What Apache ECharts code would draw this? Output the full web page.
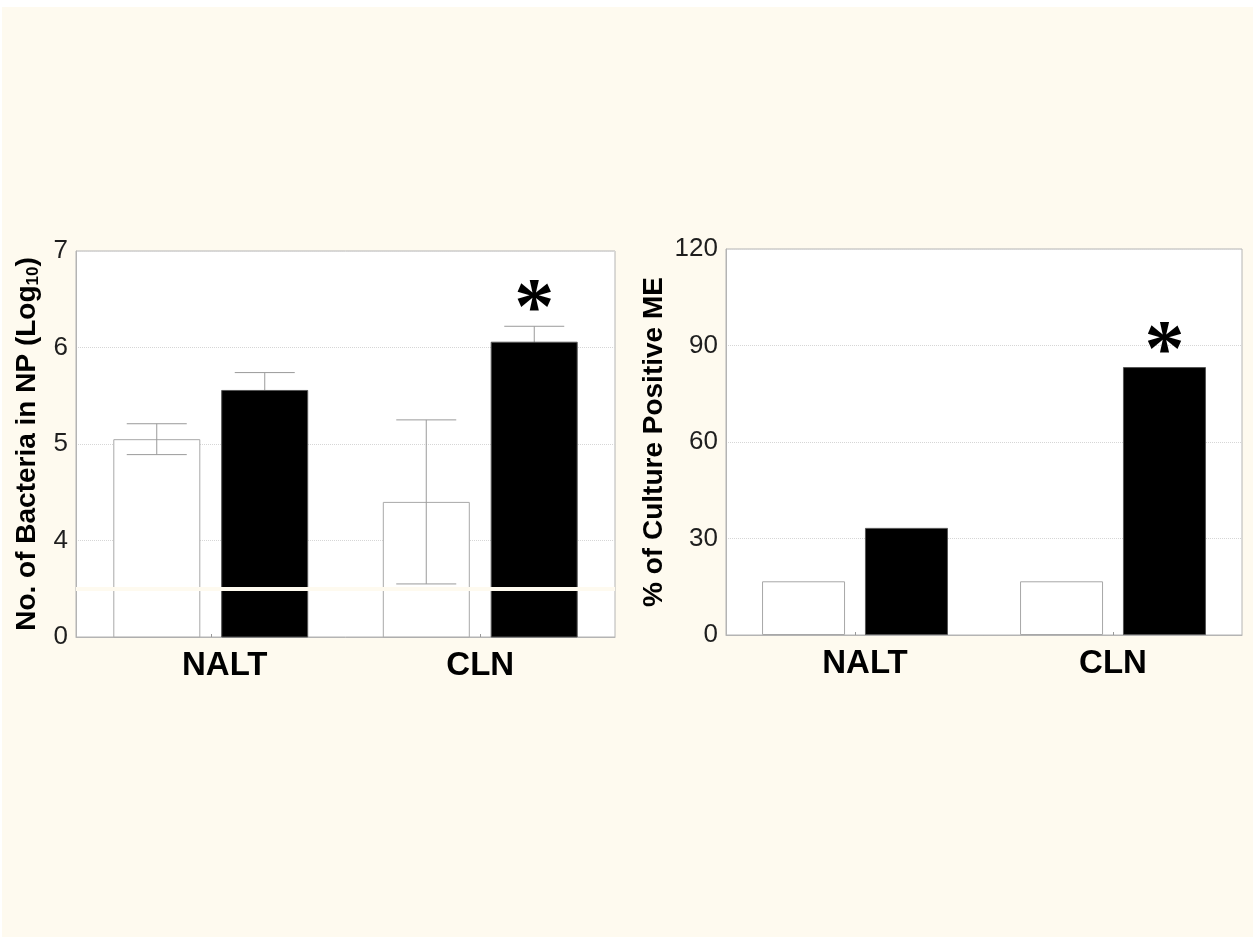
<!DOCTYPE html>
<html>
<head>
<meta charset="utf-8">
<script src="https://cdn.jsdelivr.net/npm/echarts@6/dist/echarts.min.js"></script>
<style>
  html, body { margin: 0; padding: 0; background: #ffffff; }
  #panel { position: absolute; left: 2px; top: 7px; width: 1251px; height: 930px; background: #fefaef; }
  #chart { position: absolute; left: 0; top: 0; width: 1256px; height: 939px; }
</style>
</head>
<body>
<div id="panel"></div>
<div id="chart"></div>
<script>
// Groups on the x axis
const categories = ['NALT', 'CLN'];

// Bacteria recovered from the nasopharynx (log10), mean and error
const npControl = [5.05, 4.40];
const npControlErr = [0.16, 0.85];
const npTreated = [5.56, 6.06];
const npTreatedErr = [0.18, 0.16];
const npSignificance = ['', '*'];
// Broken axis: the stretch from 0 up to 3.5 is cut out, so the bottom
// tick (axis value 3) is read as 0 and a gap is drawn at 3.5.
const npAxisFloor = 3;
const npBreakAt = 3.5;
const npTickLabels = ['0', '4', '5', '6', '7'];

// Percentage of middle ears that were culture positive
const meControl = [16.7, 16.7];
const meTreated = [33.3, 83.3];
const meSignificance = ['', '*'];
const meTickLabels = ['0', '30', '60', '90', '120'];

const FONT = 'Liberation Sans, Arial, Helvetica, sans-serif';
const AXIS_GRAY = '#b4b4b4';
const BAR_BORDER = '#a8a8a8';
const PANEL = '#fefaef';

function yAxisBase(name, nameGap, labels, min, interval) {
  return {
    type: 'value',
    name: name,
    nameLocation: 'middle',
    nameGap: nameGap,
    nameRotate: 90,
    nameTextStyle: { fontFamily: FONT, fontWeight: 'bold', fontSize: 28, color: '#000',
      rich: { sub: { fontFamily: FONT, fontWeight: 'bold', fontSize: 17, color: '#000', verticalAlign: 'bottom', padding: [12, 0, 0, 0] } } },
    axisLine: { show: true, lineStyle: { color: AXIS_GRAY, width: 1 } },
    axisTick: { show: false },
    axisLabel: {
      fontFamily: FONT, fontSize: 26, color: '#1e1e1e', margin: 8,
      formatter: v => {
        const i = Math.round((v - min) / interval);
        return labels[i] !== undefined ? labels[i] : '';
      }
    },
    splitLine: { show: true, lineStyle: { type: 'dotted', color: '#d6d6d6', width: 1 } }
  };
}

function xAxisBase(gridIndex, firstShift) {
  return {
    type: 'category',
    gridIndex: gridIndex,
    data: categories.map((c, i) => ({ value: c, textStyle: { padding: i === 0 ? [0, 0, 0, firstShift] : [0, 0, 0, 0] } })),
    axisLine: { show: true, lineStyle: { color: AXIS_GRAY, width: 1 } },
    axisTick: { show: true, inside: true, length: 3, alignWithLabel: true, lineStyle: { color: '#999' } },
    axisLabel: { fontFamily: FONT, fontSize: 33, fontWeight: 'bold', color: '#000', margin: 12 },
    splitLine: { show: false }
  };
}

function errorBars(name, xAxisIndex, yAxisIndex, means, errs, offset, capWidth, z) {
  return {
    type: 'custom',
    name: name,
    xAxisIndex: xAxisIndex,
    yAxisIndex: yAxisIndex,
    z: z,
    silent: true,
    data: means.map((m, i) => [i, m - errs[i], m + errs[i]]),
    renderItem: function (params, api) {
      const lo = api.coord([api.value(0), api.value(1)]);
      const hi = api.coord([api.value(0), api.value(2)]);
      const x = lo[0] + offset;
      const h = capWidth / 2;
      const style = { stroke: '#9a9a9a', lineWidth: 1 };
      return {
        type: 'group',
        children: [
          { type: 'line', shape: { x1: x, y1: lo[1], x2: x, y2: hi[1] }, style: style },
          { type: 'line', shape: { x1: x - h, y1: hi[1], x2: x + h, y2: hi[1] }, style: style },
          { type: 'line', shape: { x1: x - h, y1: lo[1], x2: x + h, y2: lo[1] }, style: style }
        ]
      };
    }
  };
}

// Significance marker drawn above the treated bar
function starLabel(marks, lift) {
  return {
    show: true,
    position: 'top',
    distance: 0,
    offset: [0, lift],
    formatter: p => (marks[p.dataIndex] ? '*' : ''),
    fontFamily: 'Liberation Serif, Times New Roman, serif',
    fontWeight: 'bold',
    fontSize: 80,
    color: '#000'
  };
}

const npAxis = yAxisBase('No. of Bacteria in NP (Log{sub|10})', 34, npTickLabels, npAxisFloor, 1);
npAxis.gridIndex = 0;
npAxis.min = npAxisFloor;
npAxis.max = 7;
npAxis.interval = 1;

const meAxis = yAxisBase('% of Culture Positive ME', 58, meTickLabels, 0, 30);
meAxis.gridIndex = 1;
meAxis.min = 0;
meAxis.max = 120;
meAxis.interval = 30;

const option = {
  animation: false,
  backgroundColor: 'transparent',
  grid: [
    { left: 76, top: 251, width: 539, height: 386, show: true, backgroundColor: '#ffffff', borderColor: AXIS_GRAY, borderWidth: 1 },
    { left: 726, top: 249, width: 516, height: 386, show: true, backgroundColor: '#ffffff', borderColor: AXIS_GRAY, borderWidth: 1 }
  ],
  xAxis: [xAxisBase(0, 28), xAxisBase(1, 20)],
  yAxis: [npAxis, meAxis],
  series: [
    {
      type: 'bar', name: 'Control', xAxisIndex: 0, yAxisIndex: 0, z: 2,
      data: npControl, barWidth: 87, barGap: '24%',
      itemStyle: { color: '#ffffff', borderColor: BAR_BORDER, borderWidth: 1 }
    },
    {
      type: 'bar', name: 'Treated', xAxisIndex: 0, yAxisIndex: 0, z: 4,
      data: npTreated, barWidth: 87, barGap: '24%',
      itemStyle: { color: '#000000', borderColor: '#555', borderWidth: 1 },
      label: starLabel(npSignificance, 11),
      markLine: {
        silent: true,
        symbol: 'none',
        label: { show: false },
        lineStyle: { color: PANEL, width: 4, type: 'solid' },
        data: [{ yAxis: npBreakAt }]
      }
    },
    errorBars('Control error', 0, 0, npControl, npControlErr, -54, 60, 3),
    errorBars('Treated error', 0, 0, npTreated, npTreatedErr, 54, 60, 3),
    {
      type: 'bar', name: 'Control', xAxisIndex: 1, yAxisIndex: 1, z: 2,
      data: meControl, barWidth: 83, barGap: '24%',
      itemStyle: { color: '#ffffff', borderColor: BAR_BORDER, borderWidth: 1 }
    },
    {
      type: 'bar', name: 'Treated', xAxisIndex: 1, yAxisIndex: 1, z: 4,
      data: meTreated, barWidth: 83, barGap: '24%',
      itemStyle: { color: '#000000', borderColor: '#555', borderWidth: 1 },
      label: starLabel(meSignificance, 27)
    }
  ]
};

const chart = echarts.init(document.getElementById('chart'), null, { renderer: 'canvas' });
chart.setOption(option);
</script>
</body>
</html>
